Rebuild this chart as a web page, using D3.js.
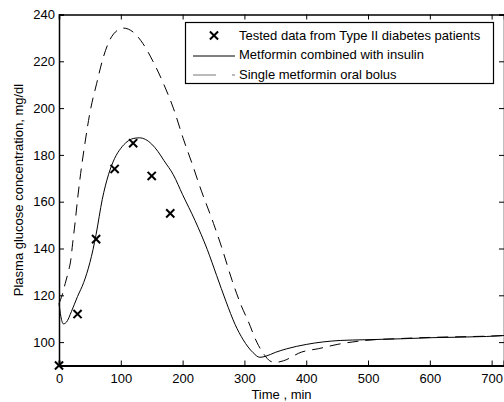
<!DOCTYPE html>
<html>
<head>
<meta charset="utf-8">
<script src="https://cdn.jsdelivr.net/npm/d3@7"></script>
<style>
  body { margin: 0; background: white; }
  text { font-family: "Liberation Sans", Arial, sans-serif; }
</style>
</head>
<body>
<div id="container"></div>
<script>
let w = 504,
    h = 402,
    fs = 13;

// tested points
let testedT = [0, 30, 60, 90, 120, 150, 180];
let testedG = [90, 112, 144, 174, 185, 171, 155];

// metformin + insulin (solid)
let comboT = [0, 3, 7, 12, 20, 30, 40, 50, 55, 60, 70, 80, 90, 100, 110, 120, 130, 140, 150, 160, 170, 185, 200, 220, 240, 255, 270, 285, 298, 314, 325, 335, 350, 368, 400, 455, 495, 552, 605, 692, 720];
let comboG = [116.5, 111, 107.8, 108.5, 113, 119.5, 125.5, 134, 139.5, 146, 161, 171.5, 178.5, 182.8, 185.6, 187, 187.3, 186.6, 184.6, 181.5, 177.5, 171.5, 163, 152, 139.5, 128.5, 117.5, 107.5, 101, 95.5, 93.5, 94, 95.6, 97.1, 99, 100.7, 101, 101.4, 101.9, 102.4, 102.8];

// single metformin oral bolus (dashed)
let singleT = [0, 5, 10, 15, 19, 22, 26, 30, 35, 42, 50, 61, 72, 82, 96, 104, 120, 136, 153, 169, 185, 201, 217, 228, 250, 263, 280, 295, 306, 320, 333, 341, 350, 363, 392, 420, 450, 495, 550, 600, 700, 720];
let singleG = [116.5, 120, 125, 130, 135, 142, 151, 161, 172, 185, 198, 210.6, 222, 229, 233.5, 234.2, 232.5, 227.5, 219.5, 210.5, 200, 187, 175, 166.4, 150.7, 140.7, 126.4, 115.5, 109, 100, 94.3, 92, 91.3, 92, 95.7, 97.2, 99, 100.7, 101.5, 102, 102.6, 102.8];

let xTicks = [0, 100, 200, 300, 400, 500, 600, 700];
let yTicks = [100, 120, 140, 160, 180, 200, 220, 240];

let legendLabels = ['Tested data from Type II diabetes patients', 'Metformin combined with insulin', 'Single metformin oral bolus'];

let viz = d3.select('#container')
    .append('svg')
      .attr('width', w)
      .attr('height', h)
      .style('background', 'white')
;

function main() {
    let left = 59, right = 504, top = 14.5, bottom = 365.5;

    let x = d3.scaleLinear().domain([0, 720]).range([left, right]);
    let y = d3.scaleLinear().domain([90, 240]).range([bottom, top]);

    // box and inward ticks
    viz.append('g')
        .attr('transform', 'translate(0,' + bottom + ')')
        .call(d3.axisBottom(x).tickValues(xTicks).tickSize(-5).tickPadding(8))
        .call(g => g.select('.domain').attr('stroke-width', 2))
        .call(g => g.selectAll('text').attr('font-size', fs).attr('font-family', '"Liberation Sans", Arial'));
    viz.append('g')
        .attr('transform', 'translate(0,' + top + ')')
        .call(d3.axisTop(x).tickValues(xTicks).tickSize(-5).tickFormat(''))
        .call(g => g.select('.domain').attr('stroke-width', 1.5));
    viz.append('g')
        .attr('transform', 'translate(' + left + ',0)')
        .call(d3.axisLeft(y).tickValues(yTicks).tickSize(-5).tickPadding(4))
        .call(g => g.select('.domain').attr('stroke-width', 1.5))
        .call(g => g.selectAll('text').attr('font-size', fs).attr('font-family', '"Liberation Sans", Arial'));
    viz.append('g')
        .attr('transform', 'translate(' + right + ',0)')
        .call(d3.axisRight(y).tickValues(yTicks).tickSize(-5).tickFormat(''))
        .call(g => g.select('.domain').attr('stroke-width', 1.5));

    let line = d3.line().x(d => x(d[0])).y(d => y(d[1])).curve(d3.curveMonotoneX);

    viz.append('path')
        .datum(d3.zip(comboT, comboG))
        .attr('d', line)
        .attr('fill', 'none')
        .attr('stroke', 'black')
        .attr('stroke-width', 1);

    viz.append('path')
        .datum(d3.zip(singleT, singleG))
        .attr('d', line)
        .attr('fill', 'none')
        .attr('stroke', 'black')
        .attr('stroke-width', 1)
        .style('stroke-dasharray', ('11,7'));

    // x markers
    let cross = d3.symbol().type(d3.symbolX).size(45);
    viz.append('g').selectAll('path')
        .data(d3.zip(testedT, testedG))
        .enter().append('path')
          .attr('d', cross)
          .attr('transform', d => 'translate(' + x(d[0]) + ',' + y(d[1]) + ')')
          .attr('fill', 'none')
          .attr('stroke', 'black')
          .attr('stroke-width', 2);

    // legend
    let legend = viz.append('g');
    legend.append('rect')
        .attr('x', 185.5).attr('y', 22.5)
        .attr('width', 308).attr('height', 61)
        .attr('fill', 'white').attr('stroke', 'black').attr('stroke-width', 1.2);
    legend.append('path')
        .attr('d', cross)
        .attr('transform', 'translate(214,35.5)')
        .attr('fill', 'none').attr('stroke', 'black').attr('stroke-width', 2);
    legend.append('line')
        .attr('x1', 193).attr('x2', 235).attr('y1', 56).attr('y2', 56)
        .attr('stroke', 'black');
    legend.append('line')
        .attr('x1', 193).attr('x2', 235).attr('y1', 75).attr('y2', 75)
        .attr('stroke', '#777')
        .style('stroke-dasharray', ('23,16'));
    legend.selectAll('text')
        .data(legendLabels)
        .enter().append('text')
          .attr('x', 239)
          .attr('y', (d, i) => 39.5 + i * 19.5)
          .attr('font-size', fs)
          .text(d => d);

    // axis titles
    viz.append('text')
        .attr('x', (left + right) / 2)
        .attr('y', 399)
        .attr('text-anchor', 'middle')
        .attr('font-size', fs)
        .text('Time , min');
    viz.append('text')
        .attr('transform', 'translate(22.5,' + ((top + bottom) / 2) + ') rotate(-90)')
        .attr('text-anchor', 'middle')
        .attr('font-size', fs)
        .text('Plasma glucose concentration, mg/dl');
}

main();
</script>
</body>
</html>
